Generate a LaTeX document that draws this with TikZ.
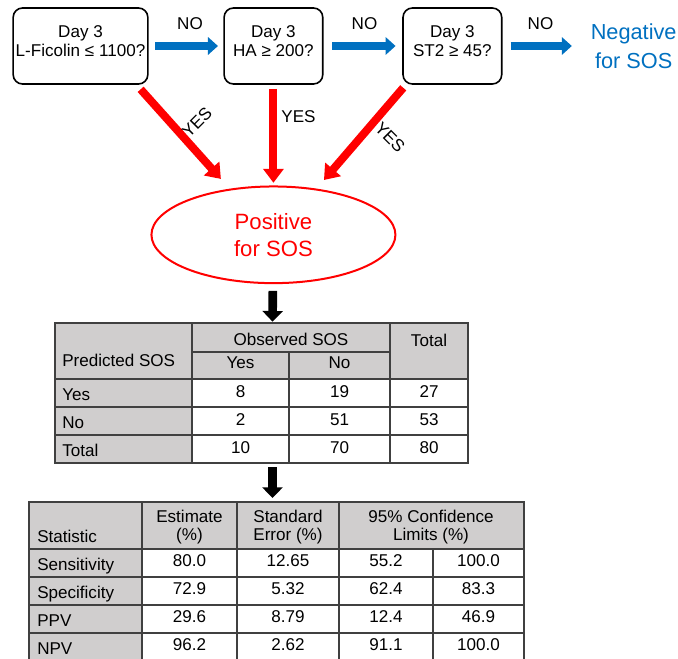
\documentclass[tikz,border=0pt]{standalone}
\usepackage{fontspec}
\setmainfont{Liberation Sans}
\usetikzlibrary{arrows.meta,positioning,shapes.geometric}
\definecolor{sosblue}{HTML}{0070C0}
\definecolor{sosred}{HTML}{FF0000}
\definecolor{cellgray}{HTML}{D0CECE}
\definecolor{griddark}{HTML}{404040}

\begin{document}
\begin{tikzpicture}[
  x=0.75pt, y=-0.75pt,
  font=\fontsize{12.8}{14.3}\selectfont,
  decision/.style={
    rectangle, draw=black, line width=1.2pt, rounded corners=7pt,
    minimum width=74pt, minimum height=57pt, align=center, inner sep=0pt,
    text depth=7pt
  },
  negbox/.style={align=center, inner sep=0pt, text=sosblue,
    font=\fontsize{16.3}{21.5}\selectfont},
  posbox/.style={
    ellipse, draw=sosred, line width=1.5pt, text=sosred, align=center,
    minimum width=183pt, minimum height=72.5pt, inner sep=0pt,
    font=\fontsize{16.6}{20.3}\selectfont
  },
  noarr/.style={-{Triangle[length=7.5pt,width=13pt]}, line width=6.2pt, color=sosblue},
  yesarr/.style={-{Triangle[length=10.5pt,width=15pt]}, line width=6pt, color=sosred},
  downarr/.style={-{Triangle[length=8pt,width=15pt]}, line width=6.5pt, color=black},
  cell/.style={anchor=base, inner sep=0pt},
  rowlab/.style={anchor=base west, inner sep=0pt},
  headcell/.style={align=center, inner sep=0pt, font=\fontsize{12.8}{13.6}\selectfont},
  grid/.style={draw=griddark, line width=1.1pt},
]
  \useasboundingbox (0,0) rectangle (678,659);

  % Row 1: tests on day 3
  \node[decision, minimum width=101pt] (ficolin) at (80.5,46) {Day 3\\L-Ficolin ≤ 1100?};
  \node[decision, right=56pt of ficolin] (ha) {Day 3\\HA ≥ 200?};
  \node[decision, right=59pt of ha] (st2) {Day 3\\ST2 ≥ 45?};
  \node[negbox, right=66pt of st2] (negative) {Negative\\for SOS};

  % Row 2: positive outcome
  \node[posbox, below=75.5pt of ha] (positive) {Positive\\for SOS};

  % NO arrows
  \draw[noarr, shorten <=5pt, shorten >=4pt] (ficolin) -- (ha);
  \draw[noarr, shorten <=6.5pt, shorten >=5pt] (ha) -- (st2);
  \draw[noarr, shorten <=6pt, shorten >=14pt] (st2) -- (negative);
  \node (no1) at (190,23.5) {NO};
  \node (no2) at (364.5,23.5) {NO};
  \node (no3) at (540.5,23.5) {NO};

  % YES arrows
  \draw[yesarr] ([xshift=-6pt,yshift=-3.4pt]ficolin.south east) -- ([xshift=-39.4pt,yshift=4.9pt]positive.north);
  \draw[yesarr, shorten <=3pt, shorten >=2pt] (ha) -- (positive);
  \draw[yesarr] ([xshift=0.75pt,yshift=-2.25pt]st2.south west) -- ([xshift=37.9pt,yshift=4.1pt]positive.north);
  \node[rotate=45] (yes1) at (197,122) {YES};
  \node (yes2) at (298.5,116.5) {YES};
  \node[rotate=-45] (yes3) at (390,137) {YES};

  % Table 1: predicted vs observed
  \coordinate (tabtop) at (272.5,323);
  \coordinate (tabbot) at (272.5,463);
  \fill[cellgray] (55,323) rectangle (468,379);
  \fill[cellgray] (55,379) rectangle (192,463);
  \draw[grid] (55,323) rectangle (468,463);
  \foreach \y in {379,407,435} \draw[grid] (55,\y) -- (468,\y);
  \draw[grid] (192,352) -- (390,352);
  \draw[grid] (192,323) -- (192,463) (390,323) -- (390,463) (289,352) -- (289,463);
  \node[cell] (observed) at (291,345) {Observed SOS};
  \node[cell] (total) at (429,346) {Total};
  \node[rowlab] (predicted) at (62,366) {Predicted SOS};
  \node[cell] (obsyes) at (240.5,368) {Yes};
  \node[cell] (obsno) at (339.5,368) {No};
  \foreach \lab/\a/\b/\c [count=\i] in {Yes/8/19/27, No/2/51/53, Total/10/70/80} {
    \node[rowlab] (pred\i) at (62,{372+28*\i}) {\lab};
    \node[cell] (cyes\i) at (240.5,{369+28*\i}) {\a};
    \node[cell] (cno\i) at (339.5,{369+28*\i}) {\b};
    \node[cell] (ctot\i) at (429,{369+28*\i}) {\c};
  }

  % Table 2: statistics
  \coordinate (stattop) at (272.5,502);
  \fill[cellgray] (29,502) rectangle (524,549);
  \fill[cellgray] (29,549) rectangle (142,661);
  \draw[grid] (29,502) rectangle (524,661);
  \foreach \y in {549,577,605,633} \draw[grid] (29,\y) -- (524,\y);
  \foreach \x in {142,237,339} \draw[grid] (\x,502) -- (\x,661);
  \draw[grid] (433,549) -- (433,661);
  \node[rowlab] (statistic) at (37,542) {Statistic};
  \node[headcell] (estimate) at (189.5,527) {Estimate\\(\%)};
  \node[headcell] (stderr) at (288,527) {Standard\\Error (\%)};
  \node[headcell] (limits) at (431,527) {95\% Confidence\\Limits (\%)};
  \foreach \lab/\e/\s/\lo/\hi [count=\i] in {Sensitivity/80.0/12.65/55.2/100.0,
      Specificity/72.9/5.32/62.4/83.3, PPV/29.6/8.79/12.4/46.9, NPV/96.2/2.62/91.1/100.0} {
    \node[rowlab] (stat\i) at (37,{542+28*\i}) {\lab};
    \node[cell] (est\i) at (189.5,{538+28*\i}) {\e};
    \node[cell] (se\i) at (288,{538+28*\i}) {\s};
    \node[cell] (lo\i) at (386,{538+28*\i}) {\lo};
    \node[cell] (hi\i) at (478.5,{538+28*\i}) {\hi};
  }

  % Black arrows
  \draw[downarr, shorten <=5pt, shorten >=1pt] (positive) -- (tabtop);
  \draw[downarr, shorten <=3pt, shorten >=3pt] (tabbot) -- (stattop);
\end{tikzpicture}
\end{document}
